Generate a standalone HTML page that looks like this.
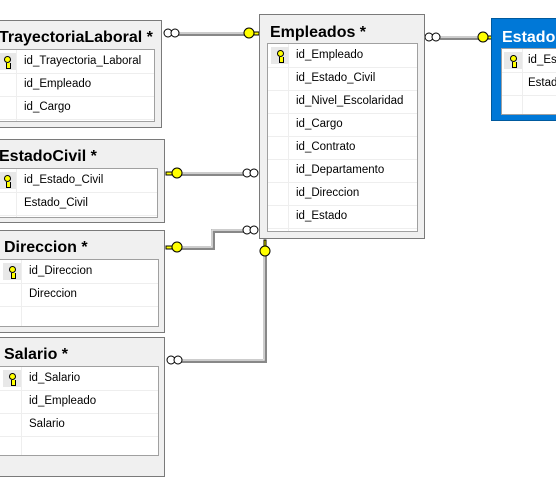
<!DOCTYPE html>
<html><head><meta charset="utf-8"><style>
body{margin:0;width:556px;height:460px;background:#fff;position:relative;overflow:hidden;font-family:"Liberation Sans",sans-serif}
.t{position:absolute;background:#f0f0f0;border:1px solid #7a7a7a;box-sizing:border-box}
.ti{position:absolute;font-weight:bold;font-size:16px;color:#000;white-space:nowrap}
.g{position:absolute;background:#fff;border:1px solid #a0a0a0;box-sizing:border-box}
.r{position:absolute;left:0;right:0;height:23px;border-bottom:1px solid #eee;font-size:11.5px;line-height:23px;color:#000;white-space:nowrap}
.kc{position:absolute;top:0;bottom:0;border-right:1px solid #eee}
.k{position:absolute;top:3px;width:18px;height:17px;background:#e8e8e8}
.k:before{content:"";position:absolute;left:6px;top:3px;width:5px;height:5px;border:1.5px solid #000;border-radius:50%;background:#ff0}
.k:after{content:"";position:absolute;left:8px;top:10px;width:3px;height:5px;background:#ff0;border:1px solid #000;border-top:0}
svg{position:absolute;left:0;top:0}
</style></head><body>
<svg width="556" height="460">
<g fill="none">
<g stroke="#888" stroke-width="4">
<path d="M178 34H245"/><path d="M180 174H244"/><path d="M181 248H213V231H244"/><path d="M265 256V361H180"/><path d="M440 38H479"/>
</g>
<g stroke="#e4e4e4" stroke-width="1.5">
<path d="M178 33H245"/><path d="M180 173H244"/><path d="M181 247H212V230H244"/><path d="M264 256V360H180"/><path d="M440 37H479"/>
</g>
<g stroke="#000" fill="#fff" stroke-width="1">
<circle cx="168" cy="33" r="4"/><circle cx="175" cy="33" r="4"/>
<circle cx="247" cy="173" r="4"/><circle cx="254" cy="173" r="4"/>
<circle cx="247" cy="230" r="4"/><circle cx="254" cy="230" r="4"/>
<circle cx="171" cy="360" r="4"/><circle cx="178" cy="360" r="4"/>
<circle cx="429" cy="37" r="4"/><circle cx="436" cy="37" r="4"/>
</g>
<g stroke="#000" fill="#ffff00" stroke-width="1">
<circle cx="249" cy="33" r="5"/><path d="M254 32H259V35H254Z"/>
<circle cx="177" cy="173" r="5"/><path d="M166 172H172V175H166Z"/>
<circle cx="177" cy="247" r="5"/><path d="M166 246H172V249H166Z"/>
<circle cx="265" cy="251" r="5"/><path d="M264 240H266V246H264Z"/>
<circle cx="483" cy="37" r="5"/><path d="M488 36H493V39H488Z"/>
</g>
</g>
</svg>

<div class="t" style="left:-10px;top:20px;width:172px;height:108px"><div class="ti" style="left:8px;top:8px">TrayectoriaLaboral *</div>
<div class="g" style="left:6px;top:28px;width:158px;height:73px">
<div class="kc" style="left:0;width:18px"></div>
<div class="r" style="top:0"><div class="k" style="left:0"></div><span style="position:absolute;left:26px">id_Trayectoria_Laboral</span></div>
<div class="r" style="top:23px"><span style="position:absolute;left:26px">id_Empleado</span></div>
<div class="r" style="top:46px"><span style="position:absolute;left:26px">id_Cargo</span></div>
</div></div>

<div class="t" style="left:-10px;top:139px;width:175px;height:84px"><div class="ti" style="left:8px;top:8px">EstadoCivil *</div>
<div class="g" style="left:6px;top:28px;width:161px;height:50px">
<div class="kc" style="left:0;width:18px"></div>
<div class="r" style="top:0"><div class="k" style="left:0"></div><span style="position:absolute;left:26px">id_Estado_Civil</span></div>
<div class="r" style="top:23px"><span style="position:absolute;left:26px">Estado_Civil</span></div>
</div></div>

<div class="t" style="left:-10px;top:230px;width:175px;height:103px"><div class="ti" style="left:13px;top:8px">Direccion *</div>
<div class="g" style="left:6px;top:28px;width:162px;height:68px">
<div class="kc" style="left:0;width:23px"></div>
<div class="r" style="top:0"><div class="k" style="left:5px"></div><span style="position:absolute;left:31px">id_Direccion</span></div>
<div class="r" style="top:23px"><span style="position:absolute;left:31px">Direccion</span></div>
</div></div>

<div class="t" style="left:-10px;top:337px;width:175px;height:140px"><div class="ti" style="left:13px;top:8px">Salario *</div>
<div class="g" style="left:6px;top:28px;width:162px;height:90px">
<div class="kc" style="left:0;width:23px"></div>
<div class="r" style="top:0"><div class="k" style="left:5px"></div><span style="position:absolute;left:31px">id_Salario</span></div>
<div class="r" style="top:23px"><span style="position:absolute;left:31px">id_Empleado</span></div>
<div class="r" style="top:46px"><span style="position:absolute;left:31px">Salario</span></div>
</div></div>

<div class="t" style="left:259px;top:14px;width:166px;height:225px"><div class="ti" style="left:10px;top:9px">Empleados *</div>
<div class="g" style="left:7px;top:28px;width:151px;height:189px">
<div class="kc" style="left:0;width:20px"></div>
<div class="r" style="top:0"><div class="k" style="left:3px"></div><span style="position:absolute;left:28px">id_Empleado</span></div>
<div class="r" style="top:23px"><span style="position:absolute;left:28px">id_Estado_Civil</span></div>
<div class="r" style="top:46px"><span style="position:absolute;left:28px">id_Nivel_Escolaridad</span></div>
<div class="r" style="top:69px"><span style="position:absolute;left:28px">id_Cargo</span></div>
<div class="r" style="top:92px"><span style="position:absolute;left:28px">id_Contrato</span></div>
<div class="r" style="top:115px"><span style="position:absolute;left:28px">id_Departamento</span></div>
<div class="r" style="top:138px"><span style="position:absolute;left:28px">id_Direccion</span></div>
<div class="r" style="top:161px"><span style="position:absolute;left:28px">id_Estado</span></div>
</div></div>

<div class="t" style="left:491px;top:18px;width:80px;height:103px;background:#0078d7;border:1px solid #005a9e"><div class="ti" style="left:10px;top:10px;color:#fff">Estado</div>
<div class="g" style="left:9px;top:29px;width:70px;height:67px">
<div class="kc" style="left:0;width:20px"></div>
<div class="r" style="top:0"><div class="k" style="left:2px"></div><span style="position:absolute;left:26px">id_Estado</span></div>
<div class="r" style="top:23px"><span style="position:absolute;left:26px">Estado</span></div>
</div></div>
</body></html>
